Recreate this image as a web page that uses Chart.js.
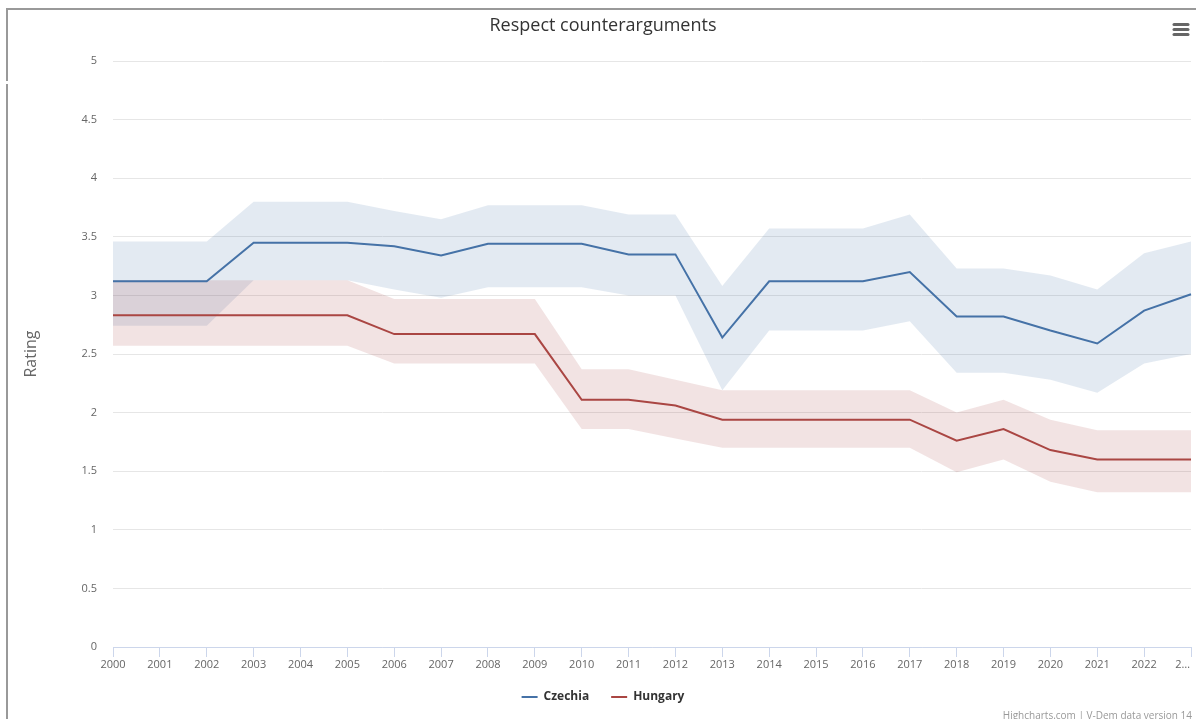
<!DOCTYPE html>
<html>
<head>
<meta charset="utf-8">
<script src="https://cdn.jsdelivr.net/npm/chart.js@4"></script>
<style>
  html, body { margin: 0; padding: 0; background: #ffffff; }
  #wrap { width: 1196px; height: 719px; position: relative; }
</style>
</head>
<body>
<div id="wrap"><canvas id="c" width="1196" height="719"></canvas></div>
<script>
const chartTitle = 'Respect counterarguments';
const yAxisTitle = 'Rating';
const creditsText = 'Highcharts.com | V-Dem data version 14';
const years = ['2000','2001','2002','2003','2004','2005','2006','2007','2008','2009','2010','2011',
               '2012','2013','2014','2015','2016','2017','2018','2019','2020','2021','2022','2023'];
const czechia     = [3.12,3.12,3.12,3.45,3.45,3.45,3.42,3.34,3.44,3.44,3.44,3.35,3.35,2.64,3.12,3.12,3.12,3.20,2.82,2.82,2.70,2.59,2.87,3.01];
const czechiaHigh = [3.46,3.46,3.46,3.80,3.80,3.80,3.72,3.65,3.77,3.77,3.77,3.69,3.69,3.08,3.57,3.57,3.57,3.69,3.23,3.23,3.17,3.05,3.36,3.46];
const czechiaLow  = [2.74,2.74,2.74,3.13,3.13,3.13,3.05,2.98,3.07,3.07,3.07,3.00,3.00,2.19,2.70,2.70,2.70,2.78,2.34,2.34,2.28,2.17,2.42,2.50];
const hungary     = [2.83,2.83,2.83,2.83,2.83,2.83,2.67,2.67,2.67,2.67,2.11,2.11,2.06,1.94,1.94,1.94,1.94,1.94,1.76,1.86,1.68,1.60,1.60,1.60];
const hungaryHigh = [3.13,3.13,3.13,3.13,3.13,3.13,2.97,2.97,2.97,2.97,2.37,2.37,2.28,2.19,2.19,2.19,2.19,2.19,2.00,2.11,1.94,1.85,1.85,1.85];
const hungaryLow  = [2.57,2.57,2.57,2.57,2.57,2.57,2.42,2.42,2.42,2.42,1.86,1.86,1.78,1.70,1.70,1.70,1.70,1.70,1.49,1.60,1.41,1.32,1.32,1.32];

const BLUE = '#4572A7', RED = '#AA4643';
const BLUE_BAND = 'rgba(69,114,167,0.15)', RED_BAND = 'rgba(170,70,67,0.15)';

Chart.defaults.font.family = "'Open Sans', 'DejaVu Sans', sans-serif";

const decor = {
  id: 'decor',
  afterDraw(chart) {
    const ctx = chart.ctx;
    ctx.save();
    // outer frame
    ctx.fillStyle = '#999999';
    ctx.fillRect(6, 8, 1190, 2);
    ctx.fillRect(6, 8, 2, 73);
    ctx.fillRect(6, 84, 2, 635);
    // menu icon
    ctx.strokeStyle = '#666666';
    ctx.lineWidth = 3;
    ctx.lineCap = 'round';
    [24.5, 29.5, 34.5].forEach(y => {
      ctx.beginPath(); ctx.moveTo(1174, y); ctx.lineTo(1188, y); ctx.stroke();
    });
    // credits
    ctx.fillStyle = '#999999';
    ctx.font = "10px 'Open Sans', sans-serif";
    ctx.textAlign = 'right';
    ctx.textBaseline = 'top';
    ctx.fillText(creditsText, 1192, 711);
    ctx.restore();
  }
};

new Chart(document.getElementById('c'), {
  type: 'line',
  data: {
    labels: years,
    datasets: [
      { label: 'Czechia', data: czechia, borderColor: BLUE, backgroundColor: BLUE, borderWidth: 2, pointRadius: 0, fill: false, order: 0 },
      { label: 'Hungary', data: hungary, borderColor: RED, backgroundColor: RED, borderWidth: 2, pointRadius: 0, fill: false, order: 0 },
      { label: 'cz-low', data: czechiaLow, borderWidth: 0, borderColor: 'rgba(0,0,0,0)', pointRadius: 0, fill: false, order: 2 },
      { label: 'cz-high', data: czechiaHigh, borderWidth: 0, borderColor: 'rgba(0,0,0,0)', backgroundColor: BLUE_BAND, pointRadius: 0, fill: '-1', order: 2 },
      { label: 'hu-low', data: hungaryLow, borderWidth: 0, borderColor: 'rgba(0,0,0,0)', pointRadius: 0, fill: false, order: 1 },
      { label: 'hu-high', data: hungaryHigh, borderWidth: 0, borderColor: 'rgba(0,0,0,0)', backgroundColor: RED_BAND, pointRadius: 0, fill: '-1', order: 1 }
    ]
  },
  options: {
    responsive: false,
    animation: false,
    events: [],
    layout: { padding: { left: 15, right: 5, top: 0, bottom: 6 } },
    elements: { line: { tension: 0 } },
    plugins: {
      title: {
        display: true, text: chartTitle, color: '#333333',
        font: { size: 18, weight: 'normal' },
        padding: { top: 15, bottom: 24.4 }
      },
      legend: {
        position: 'bottom',
        labels: {
          usePointStyle: true, pointStyle: 'line', pointStyleWidth: 16,
          padding: 22, color: '#333333',
          font: { size: 12, weight: 'bold' },
          filter: item => item.datasetIndex < 2
        }
      },
      tooltip: { enabled: false }
    },
    scales: {
      x: {
        type: 'category',
        offset: false,
        grid: { drawOnChartArea: false, drawTicks: true, tickLength: 10, color: '#ccd6eb', offset: false },
        border: { display: true, color: '#ccd6eb', width: 1 },
        ticks: {
          autoSkip: false, maxRotation: 0, minRotation: 0, padding: 1,
          color: '#666666', font: { size: 11 },
          callback: (v, i) => i === years.length - 1 ? '2\u2026\u2002\u2002\u2002' : years[i]
        },
        afterFit: s => { s.height = 22; s.paddingLeft = 0; s.paddingRight = 0; }
      },
      y: {
        min: 0, max: 5,
        grid: { color: '#e6e6e6', drawTicks: false, lineWidth: 1 },
        border: { display: false },
        ticks: { stepSize: 0.5, padding: 16, color: '#666666', font: { size: 11 },
                 callback: v => String(Math.round(v * 10) / 10) },
        title: { display: true, text: yAxisTitle, color: '#666666', font: { size: 16 }, padding: { top: 6.4, bottom: 0 } },
        afterFit: s => { s.width = 98; }
      }
    }
  },
  plugins: [decor]
});
</script>
</body>
</html>
